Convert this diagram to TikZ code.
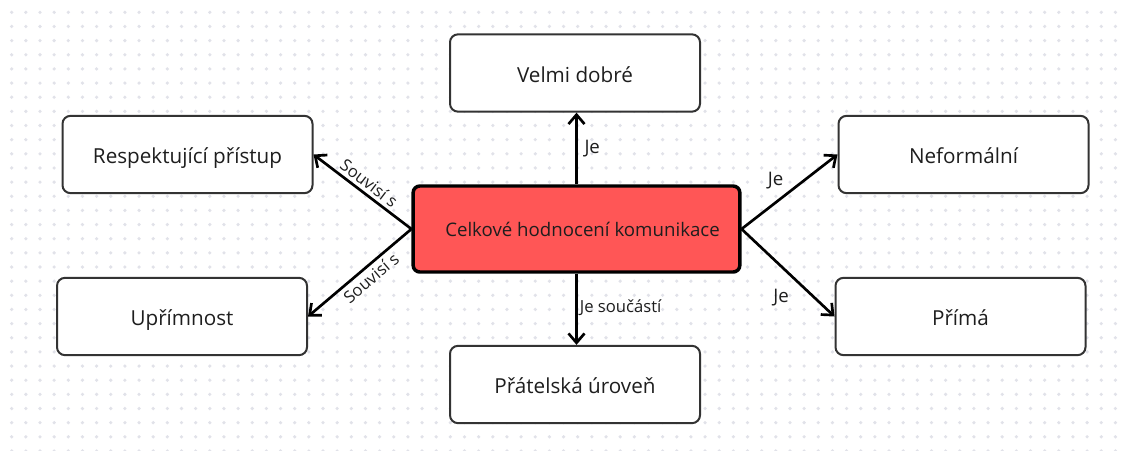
\documentclass[tikz,border=0pt]{standalone}
\usepackage{fontspec}
\setmainfont{Open Sans}
\usetikzlibrary{arrows.meta}
\definecolor{dotgray}{HTML}{E1E2E9}
\definecolor{boxline}{HTML}{333333}
\definecolor{hubred}{HTML}{FF5656}
\definecolor{ink}{HTML}{1E1E1E}
\begin{document}
\begin{tikzpicture}[x=0.75pt,y=-0.75pt,
  card/.style={draw=boxline, line width=1.5pt, rounded corners=6pt, fill=white,
    minimum width=187.5pt, minimum height=58pt, inner sep=0pt, text=ink,
    text height=16pt, text depth=2.5pt,
    font=\fontsize{15.5}{18}\selectfont},
  hub/.style={draw=black, line width=2.6pt, rounded corners=5pt, fill=hubred,
    minimum width=245pt, minimum height=64.5pt, inner sep=0pt, text=ink,
    font=\fontsize{14}{17}\selectfont},
  link/.style={line width=2pt, -{Straight Barb[length=7pt, width=12pt, line width=2pt]}},
  tag/.style={text=ink, inner sep=0pt, font=\fontsize{12.5}{14}\selectfont},
  bigtag/.style={text=ink, inner sep=0pt, font=\fontsize{14}{16}\selectfont},
]
\useasboundingbox (0,0) rectangle (1121,450);
\fill[white] (0,0) rectangle (1121,450);

% dotted canvas
\foreach \i in {0,...,78}
  \foreach \j in {0,...,31}
    \fill[dotgray] (11.7+14.15*\i, 12.3+14.15*\j) circle[radius=1.35pt];

% central node
\node[hub] (c) at (576.5,229) {\hspace*{9pt}Celkové hodnocení komunikace};

% surrounding nodes
\node[card] (v) at (575,73)      {Velmi dobré};
\node[card] (r) at (187.5,154.5) {Respektující přístup};
\node[card] (u) at (182,316.5)   {Upřímnost};
\node[card] (n) at (963.5,154.5) {Neformální};
\node[card] (p) at (960.5,316.5) {Přímá};
\node[card] (f) at (575,384.5)   {Přátelská úroveň};

% connectors
\draw[link] (c.north) -- (c.north |- v.south)
  node[bigtag, midway, right, xshift=5pt] {Je};
\draw[link] (c.south) -- (c.south |- f.north)
  node[tag, midway, right, xshift=1.5pt, yshift=1.5pt] {Je součástí};
\draw[link] (c.west) -- (r.east)
  node[tag, sloped, pos=0.5, above=2.5pt] {Souvisí s};
\draw[link] (c.west) -- (u.east)
  node[tag, sloped, pos=0.46, below=2.5pt] {Souvisí s};
\draw[link] (c.east) -- (n.west)
  node[bigtag, pos=0.465, xshift=-8pt, yshift=10.5pt] {Je};
\draw[link] (c.east) -- (p.west)
  node[bigtag, pos=0.593, xshift=-11.6pt, yshift=-12.3pt] {Je};
\end{tikzpicture}
\end{document}
